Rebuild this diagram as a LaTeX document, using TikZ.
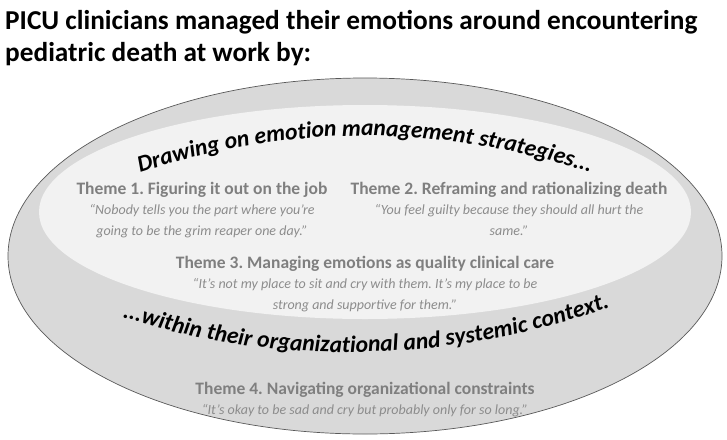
\documentclass[tikz,border=0pt]{standalone}
\usepackage{fontspec}
\setmainfont{Carlito}
\usetikzlibrary{positioning, decorations.text}
\definecolor{ringgray}{HTML}{D9D9D9}
\definecolor{coregray}{HTML}{F2F2F2}
\definecolor{themegray}{HTML}{7F7F7F}
\definecolor{quotegray}{HTML}{8C8C8C}
\definecolor{edgegray}{HTML}{595959}
\newcommand{\arcfont}{\fontsize{23.5}{23.5}\selectfont\bfseries\itshape}
\frenchspacing
\begin{document}
\begin{tikzpicture}[x=1pt, y=-1pt,
    heading/.style={anchor=base west, inner sep=0pt,
                    font=\fontsize{27.3}{30}\selectfont\bfseries},
    theme/.style={inner sep=0pt, text=themegray,
                  font=\fontsize{17.5}{18}\selectfont\bfseries},
    quote/.style={inner sep=0pt, align=center, text=quotegray,
                  font=\fontsize{14}{21}\selectfont\itshape},
    ring/.style={draw=edgegray, line width=0.7pt, fill=ringgray},
    arctext/.style={decorate, decoration={text along path, text align=center}}
  ]
    \useasboundingbox (0,0) rectangle (727,439);
    \node[heading] (title1) at (5,29) {PICU clinicians managed their emotions around encountering};
    \node[heading] (title2) at (5,61) {pediatric death at work by:};
    % the two ovals
    \draw[ring] (365,256) ellipse [x radius=357, y radius=178];
    \fill[coregray] (365,212) ellipse [x radius=326, y radius=107];
    \path[arctext, decoration={text={|\arcfont|Drawing on emotion management strategies...}}]
      (118,180) .. controls (285,121) and (445,121) .. (612,180);
    \path[arctext, decoration={text={|\arcfont|...within their organizational and systemic context.}}]
      (108,312) .. controls (270,370) and (460,364) .. (624,302);
    % themes
    \node[theme] (t1) at (202,190) {Theme 1. Figuring it out on the job};
    \node[quote, below=6pt of t1] (q1) {“Nobody tells you the part where you’re\\going to be the grim reaper one day.”};
    \node[theme] (t2) at (509,190) {Theme 2. Reframing and rationalizing death};
    \node[quote, below=6pt of t2] (q2) {“You feel guilty because they should all hurt the\\same.”};
    \node[theme] (t3) at (365,264) {Theme 3. Managing emotions as quality clinical care};
    \node[quote, below=6pt of t3] (q3) {“It’s not my place to sit and cry with them. It’s my place to be\\strong and supportive for them.”};
    \node[theme] (t4) at (365,390) {Theme 4. Navigating organizational constraints};
    \node[quote, below=6pt of t4] (q4) {“It’s okay to be sad and cry but probably only for so long.”};
\end{tikzpicture}
\end{document}
